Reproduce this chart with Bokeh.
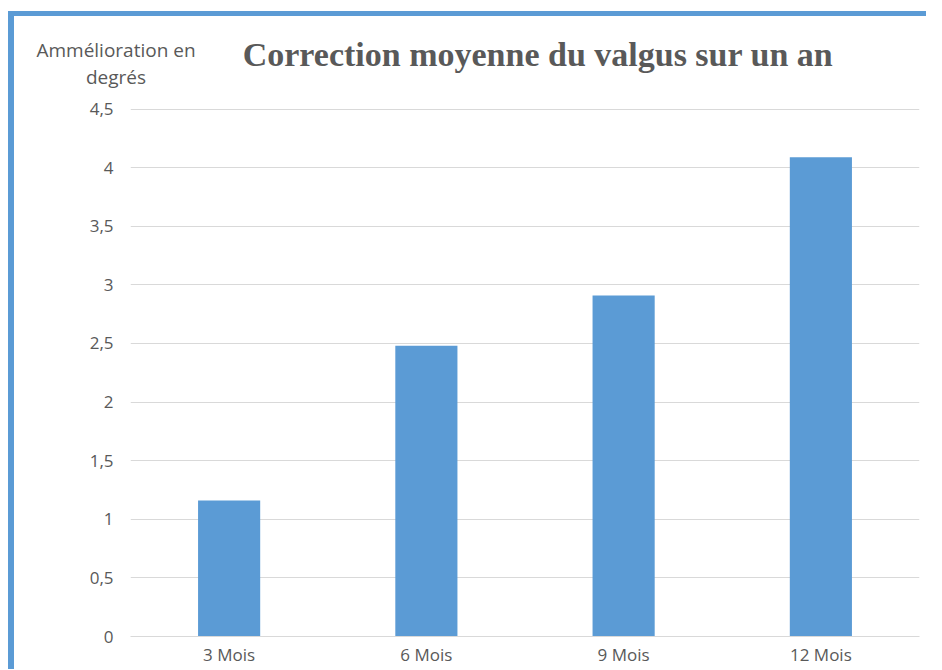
from bokeh.plotting import figure
from bokeh.layouts import column
from bokeh.models import Range1d, FactorRange, FixedTicker, ColumnDataSource, Label
from bokeh.embed import file_html
from bokeh.resources import INLINE

categories = ["3 Mois", "6 Mois", "9 Mois", "12 Mois"]
values = [1.16, 2.48, 2.91, 4.09]
ytick_values = [0, 0.5, 1, 1.5, 2, 2.5, 3, 3.5, 4, 4.5]
ytick_labels = ["0", "0,5", "1", "1,5", "2", "2,5", "3", "3,5", "4", "4,5"]
title_text = "Correction moyenne du valgus sur un an"
ytitle_text = "Ammélioration en\ndegrés"

TEXT = "#595959"
BLUE = "#5B9BD5"
GRID = "#D9D9D9"

src = ColumnDataSource(dict(cat=categories, val=values))
p = figure(
    width=912, height=653,
    x_range=FactorRange(*categories, range_padding=0),
    y_range=Range1d(0, 4.505),
    output_backend="svg", toolbar_location=None,
    min_border_left=116, min_border_right=7, min_border_top=92, min_border_bottom=33,
)
p.outline_line_color = None
p.vbar(x="cat", top="val", width=0.315, source=src, fill_color=BLUE, line_color=None)

p.xgrid.grid_line_color = None
p.ygrid.grid_line_color = GRID
p.ygrid.grid_line_width = 1

p.yaxis.ticker = FixedTicker(ticks=ytick_values)
p.yaxis.major_label_overrides = {v: l for v, l in zip(ytick_values, ytick_labels)}
p.yaxis.axis_line_color = None
p.yaxis.major_tick_line_color = None
p.yaxis.minor_tick_line_color = None
p.yaxis.major_tick_out = 0
p.yaxis.major_tick_in = 0
p.yaxis.minor_tick_out = 0
p.yaxis.major_label_standoff = 17
p.yaxis.major_label_text_font = "Open Sans"
p.yaxis.major_label_text_font_size = "17px"
p.yaxis.major_label_text_color = TEXT

p.xaxis.axis_line_color = GRID
p.xaxis.major_tick_line_color = None
p.xaxis.minor_tick_line_color = None
p.xaxis.major_tick_out = 0
p.xaxis.major_tick_in = 0
p.xaxis.major_label_standoff = 6
p.xaxis.major_label_text_font = "Open Sans"
p.xaxis.major_label_text_font_size = "17px"
p.xaxis.major_label_text_color = TEXT

# chart title (panel nearest the plot area), then the axis title above it
p.add_layout(Label(x=407.5, y=54, x_units="screen", y_units="screen", text=title_text,
                   text_align="center", text_baseline="alphabetic",
                   text_font="Liberation Serif", text_font_style="bold",
                   text_font_size="34px", text_color=TEXT), "above")
p.add_layout(Label(x=-14.5, y=-19, x_units="screen", y_units="screen", text=ytitle_text,
                   text_align="center", text_baseline="bottom", text_line_height=1.06,
                   text_font="Open Sans", text_font_size="19px", text_color=TEXT), "above")

layout = column(p, spacing=0)
layout.styles = {"margin-left": "8px", "margin-top": "11px",
                 "border-left": "6px solid " + BLUE, "border-top": "5px solid " + BLUE}

open("out.html", "w").write(file_html(layout, INLINE))
